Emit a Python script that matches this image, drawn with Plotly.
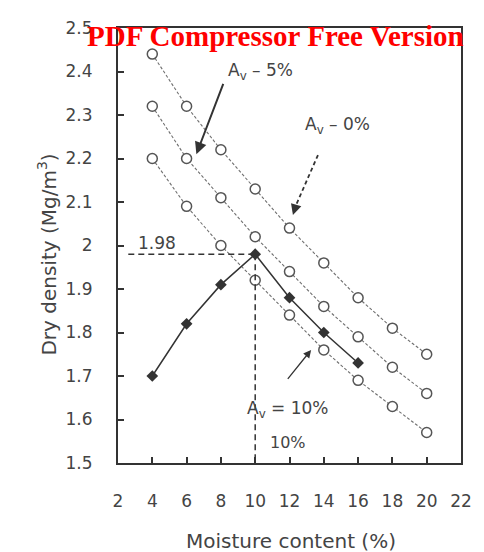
import plotly.graph_objects as go

# Moisture content (%) at which each curve is sampled
moisture = [4, 6, 8, 10, 12, 14, 16, 18, 20]

# Constant air-void curves (dry density, Mg/m^3)
av_0 = [2.44, 2.32, 2.22, 2.13, 2.04, 1.96, 1.88, 1.81, 1.75]
av_5 = [2.32, 2.20, 2.11, 2.02, 1.94, 1.86, 1.79, 1.72, 1.66]
av_10 = [2.20, 2.09, 2.00, 1.92, 1.84, 1.76, 1.69, 1.63, 1.57]

# Compaction curve
comp_moisture = [4, 6, 8, 10, 12, 14, 16]
comp_density = [1.70, 1.82, 1.91, 1.98, 1.88, 1.80, 1.73]

# Optimum point
opt_moisture = 10
opt_density = 1.98

x_ticks = [2, 4, 6, 8, 10, 12, 14, 16, 18, 20, 22]
y_ticks = [1.5, 1.6, 1.7, 1.8, 1.9, 2.0, 2.1, 2.2, 2.3, 2.4, 2.5]
y_tick_text = ["1.5", "1.6", "1.7", "1.8", "1.9", "2", "2.1", "2.2", "2.3", "2.4", "2.5"]

FONT = "DejaVu Sans"
TEXT = "#444444"
AXIS = "#333333"

fig = go.Figure()

# Air-void lines with open circles
for ys in (av_0, av_5, av_10):
    fig.add_trace(go.Scatter(
        x=moisture, y=ys, mode="lines+markers",
        line=dict(color="#6f6f6f", width=1.1, dash="3px,2px"),
        marker=dict(symbol="circle", size=10, color="white",
                    line=dict(color="#555555", width=1.5)),
        showlegend=False, hoverinfo="skip",
    ))

# Dashed guides to the optimum
fig.add_trace(go.Scatter(
    x=[2.6, opt_moisture], y=[opt_density, opt_density], mode="lines",
    line=dict(color=AXIS, width=1.5, dash="6px,4px"),
    showlegend=False, hoverinfo="skip",
))
fig.add_trace(go.Scatter(
    x=[opt_moisture, opt_moisture], y=[opt_density, 1.5], mode="lines",
    line=dict(color=AXIS, width=1.5, dash="6px,4px"),
    showlegend=False, hoverinfo="skip",
))

# Compaction curve with filled markers
fig.add_trace(go.Scatter(
    x=comp_moisture, y=comp_density, mode="lines+markers",
    line=dict(color="#333333", width=1.5),
    marker=dict(symbol="diamond", size=9, color="#333333"),
    showlegend=False, hoverinfo="skip",
))

# Dashed shaft of the 0% arrow
fig.add_trace(go.Scatter(
    x=[13.66, 12.35], y=[2.208, 2.09], mode="lines",
    line=dict(color=AXIS, width=1.8, dash="4px,3px"),
    showlegend=False, hoverinfo="skip",
))

label_font = dict(family=FONT, size=17, color=TEXT)

annotations = [
    dict(x=6.57, y=2.21, ax=8.17, ay=2.375, axref="x", ayref="y",
         showarrow=True, arrowhead=2, arrowsize=1.2, arrowwidth=2, arrowcolor=AXIS, text=""),
    dict(x=12.2, y=2.07, ax=12.4, ay=2.095, axref="x", ayref="y",
         showarrow=True, arrowhead=2, arrowsize=1.2, arrowwidth=1.8, arrowcolor=AXIS, text=""),
    dict(x=13.26, y=1.76, ax=11.83, ay=1.69, axref="x", ayref="y",
         showarrow=True, arrowhead=2, arrowsize=1.2, arrowwidth=1.3, arrowcolor=AXIS, text=""),
    dict(x=10.3, y=2.40, text="A<sub>v</sub> – 5%", showarrow=False,
         xanchor="center", yanchor="middle", font=label_font),
    dict(x=14.8, y=2.275, text="A<sub>v</sub> – 0%", showarrow=False,
         xanchor="center", yanchor="middle", font=label_font),
    dict(x=11.9, y=1.622, text="A<sub>v</sub> = 10%", showarrow=False,
         xanchor="center", yanchor="middle", font=label_font),
    dict(x=4.29, y=2.005, text="1.98", showarrow=False,
         xanchor="center", yanchor="middle", font=label_font),
    dict(x=11.9, y=1.548, text="10%", showarrow=False,
         xanchor="center", yanchor="middle",
         font=dict(family=FONT, size=16, color=TEXT)),
    # axis titles
    dict(xref="paper", yref="paper", x=-0.206, y=0.48, textangle=-90,
         xanchor="center", yanchor="middle",
         text="Dry density (Mg/m<sup>3</sup>)", showarrow=False,
         font=dict(family=FONT, size=20, color=TEXT)),
    dict(xref="paper", yref="paper", x=0.503, y=-0.179,
         xanchor="center", yanchor="middle",
         text="Moisture content (%)", showarrow=False,
         font=dict(family=FONT, size=20, color=TEXT)),
    # banner
    dict(xref="paper", yref="paper", x=0.46, y=0.981,
         xanchor="center", yanchor="middle",
         text="<b>PDF Compressor Free Version</b>", showarrow=False,
         font=dict(family="Liberation Serif", size=29, color="#ff0000")),
]

fig.update_layout(
    width=484, height=552,
    margin=dict(l=118, r=16, t=28, b=89),
    paper_bgcolor="white", plot_bgcolor="white",
    annotations=annotations,
    xaxis=dict(
        range=[2, 22], tickvals=x_ticks, ticks="inside", ticklen=6,
        tickcolor=AXIS, tickwidth=1.5, showgrid=False, zeroline=False,
        showline=True, linecolor=AXIS, linewidth=2, mirror=True,
        tickfont=dict(family=FONT, size=17, color=TEXT),
        ticklabelstandoff=22,
    ),
    yaxis=dict(
        range=[1.5, 2.5], tickvals=y_ticks, ticktext=y_tick_text,
        ticks="inside", ticklen=6, tickcolor=AXIS, tickwidth=1.5,
        showgrid=False, zeroline=False,
        showline=True, linecolor=AXIS, linewidth=2, mirror=True,
        tickfont=dict(family=FONT, size=17, color=TEXT),
        ticklabelstandoff=20,
    ),
)

fig.write_html("out.html")
